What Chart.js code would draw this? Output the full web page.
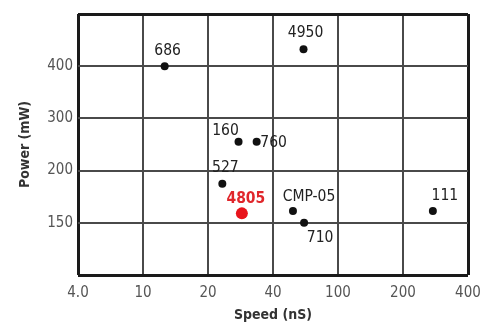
<!DOCTYPE html>
<html>
<head>
<meta charset="utf-8">
<script src="https://cdn.jsdelivr.net/npm/chart.js@4.4.1/dist/chart.umd.min.js"></script>
<style>
  html, body { margin: 0; padding: 0; background: #fff; }
  #wrap { width: 490px; height: 324px; position: relative; }
</style>
</head>
<body>
<div id="wrap"><canvas id="c" width="490" height="324"></canvas></div>
<script>
// ---- data ----
const speedTicks = [4, 10, 20, 40, 100, 200, 400];
const speedTickLabels = ['4.0', '10', '20', '40', '100', '200', '400'];
const powerTicks = [100, 150, 200, 300, 400, 500];
const powerTickLabels = ['', '150', '200', '300', '400', ''];

const names = ['686', '4950', '160', '760', '527', '4805', 'CMP-05', '710', '111'];
const speed = [12.6, 61.5, 27.7, 33.6, 23.3, 28.7, 53, 62, 275];
const power = [400, 430, 250, 250, 186, 158, 160, 150, 160];
const highlighted = ['4805'];

// ---- styles / label placement ----
const FONT = "'Liberation Sans Narrow', 'DejaVu Sans Condensed', 'Liberation Sans', Arial, sans-serif";
const labelOffsets = {
  '686': [3, -15], '4950': [2, -16], '160': [-13, -11], '760': [17, 1],
  '527': [3, -16], '4805': [4, -14], 'CMP-05': [16, -14], '710': [16, 15], '111': [12, -15]
};

// position on the evenly spaced axis (grid lines are evenly spaced between tick values)
function toIndex(v, ticks) {
  for (let i = 0; i < ticks.length - 1; i++) {
    if (v <= ticks[i + 1] || i === ticks.length - 2) {
      return i + Math.log(v / ticks[i]) / Math.log(ticks[i + 1] / ticks[i]);
    }
  }
}

const points = names.map((n, i) => ({ x: toIndex(speed[i], speedTicks), y: toIndex(power[i], powerTicks), name: n }));
const isHi = n => highlighted.includes(n);

const labelPlugin = {
  id: 'pointLabels',
  afterDatasetsDraw(chart) {
    const ctx = chart.ctx;
    const meta = chart.getDatasetMeta(0);
    ctx.save();
    ctx.textAlign = 'center';
    ctx.textBaseline = 'middle';
    meta.data.forEach((el, i) => {
      const n = points[i].name;
      const off = labelOffsets[n] || [0, -14];
      ctx.font = (isHi(n) ? 'bold ' : '') + '15.5px ' + FONT;
      ctx.fillStyle = isHi(n) ? '#e0262b' : '#222';
      ctx.fillText(n, el.x + off[0], el.y + off[1]);
    });
    ctx.restore();
  }
};

const edgeWidth = (ctx, max) => (ctx.tick && (ctx.tick.value === 0 || ctx.tick.value === max)) ? 3 : 2;
const edgeColor = (ctx, max) => (ctx.tick && (ctx.tick.value === 0 || ctx.tick.value === max)) ? '#1a1a1a' : '#4a4a4a';

new Chart(document.getElementById('c'), {
  type: 'scatter',
  data: {
    datasets: [{
      data: points,
      pointRadius: points.map(p => isHi(p.name) ? 6 : 4),
      pointHoverRadius: points.map(p => isHi(p.name) ? 6 : 4),
      pointBackgroundColor: points.map(p => isHi(p.name) ? '#e8141c' : '#111'),
      pointBorderWidth: 0
    }]
  },
  options: {
    responsive: false,
    animation: false,
    events: [],
    layout: { padding: { top: 11, right: 22, left: 17, bottom: 0 } },
    plugins: { legend: { display: false }, tooltip: { enabled: false } },
    scales: {
      x: {
        type: 'linear', min: 0, max: speedTicks.length - 1,
        afterFit(s) { s.height = 49; },
        border: { display: false },
        grid: { drawTicks: false, lineWidth: c => edgeWidth(c, speedTicks.length - 1), color: c => edgeColor(c, speedTicks.length - 1) },
        ticks: {
          stepSize: 1, padding: 9, color: '#555', maxRotation: 0,
          font: { family: FONT, size: 15 },
          callback: v => speedTickLabels[v] ?? ''
        },
        title: { display: true, text: 'Speed (nS)', color: '#333', padding: { top: 2, bottom: 0 }, font: { family: FONT, size: 14, weight: 'bold' } }
      },
      y: {
        type: 'linear', min: 0, max: powerTicks.length - 1,
        afterFit(s) { s.width = 61; },
        border: { display: false },
        grid: { drawTicks: false, lineWidth: c => edgeWidth(c, powerTicks.length - 1), color: c => edgeColor(c, powerTicks.length - 1) },
        ticks: {
          stepSize: 1, padding: 5, color: '#555',
          font: { family: FONT, size: 15 },
          callback: v => powerTickLabels[v] ?? ''
        },
        title: { display: true, text: 'Power (mW)', color: '#333', padding: { top: 0, bottom: 0 }, font: { family: FONT, size: 14, weight: 'bold' } }
      }
    }
  },
  plugins: [labelPlugin]
});
</script>
</body>
</html>
